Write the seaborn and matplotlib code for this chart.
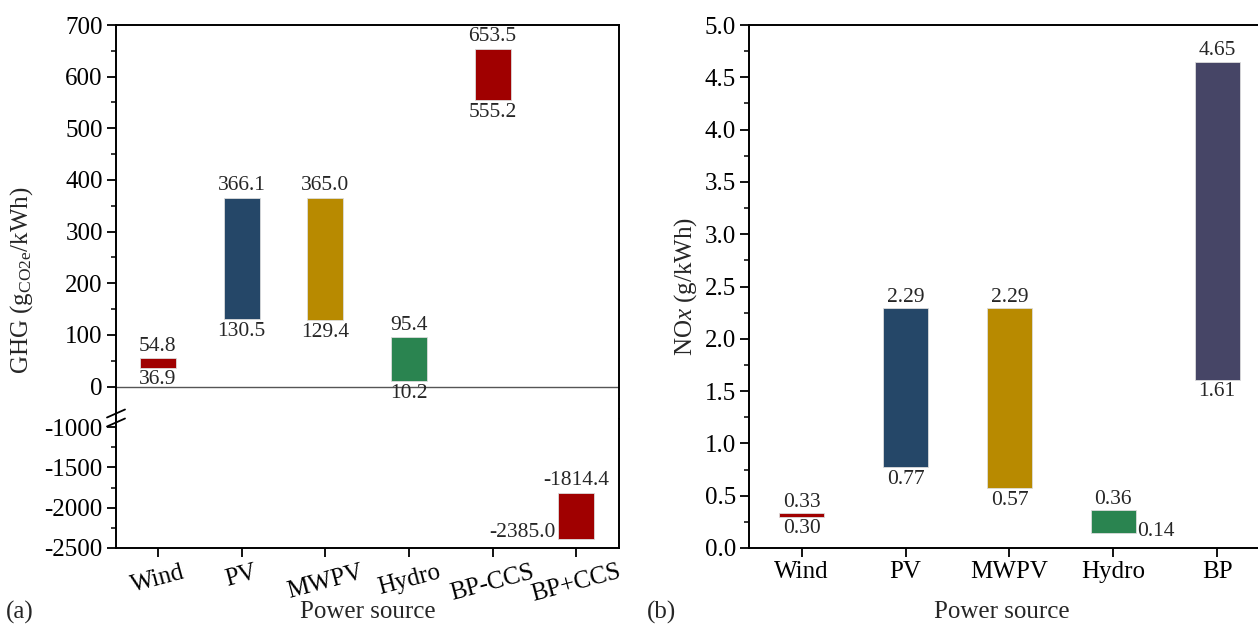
import numpy as np
import pandas as pd
import matplotlib
matplotlib.use("Agg")
import matplotlib.pyplot as plt
from matplotlib.lines import Line2D
from matplotlib.ticker import MultipleLocator, FixedLocator
import seaborn as sns

# ---------------- data ----------------
ghg_cats = ["Wind", "PV", "MWPV", "Hydro", "BP-CCS", "BP+CCS"]
ghg_low = [36.9, 130.5, 129.4, 10.2, 555.2, -2385.0]
ghg_high = [54.8, 366.1, 365.0, 95.4, 653.5, -1814.4]
ghg_colors = ["#A00000", "#254768", "#B88A00", "#2A8450", "#A00000", "#A00000"]

nox_cats = ["Wind", "PV", "MWPV", "Hydro", "BP"]
nox_low = [0.30, 0.77, 0.57, 0.14, 1.61]
nox_high = [0.33, 2.29, 2.29, 0.36, 4.65]
nox_colors = ["#A00000", "#254768", "#B88A00", "#2A8450", "#464566"]

# ---------------- style ----------------
sns.set_theme(style="ticks")
plt.rcParams.update({
    "font.family": ["Liberation Serif", "DejaVu Serif"],
    "mathtext.fontset": "custom",
    "mathtext.rm": "Liberation Serif",
    "mathtext.it": "Liberation Serif:italic",
    "axes.unicode_minus": False,
    "axes.edgecolor": "black",
    "axes.linewidth": 1.4,
    "xtick.color": "black",
    "ytick.color": "black",
    "xtick.direction": "out",
    "ytick.direction": "out",
    "xtick.major.size": 6.5,
    "ytick.major.size": 6.5,
    "ytick.minor.size": 3.5,
    "xtick.major.width": 1.3,
    "ytick.major.width": 1.3,
    "ytick.minor.width": 1.1,
    "xtick.major.pad": 3,
    "ytick.major.pad": 3,
})

FS_TICK = 18
FS_LAB = 15.5
FS_AX = 18

W, H = 1258, 626
fig = plt.figure(figsize=(W / 100, H / 100), dpi=100)


def fx(px):
    return px / W


def fy(py):
    return 1 - py / H


# left panel geometry (pixels)
L_left, L_right = 116, 619
L_top, L_break, L_bot = 25, 419, 548
ax_top = fig.add_axes([fx(L_left), fy(L_break), fx(L_right - L_left), (L_break - L_top) / H])
ax_bot = fig.add_axes([fx(L_left), fy(L_bot), fx(L_right - L_left), (L_bot - L_break) / H])

# right panel
R_left, R_right = 749, 1258
R_top, R_bot = 25, 548
ax_r = fig.add_axes([fx(R_left), fy(R_bot), fx(R_right - R_left), (R_bot - R_top) / H])


def floating_bars(ax, cats, low, high, colors):
    df = pd.DataFrame({"cat": cats, "h": np.array(high) - np.array(low)})
    sns.barplot(data=df, x="cat", y="h", hue="cat", palette=colors, width=0.43,
                legend=False, ax=ax, saturation=1, edgecolor="#dcdcdc", linewidth=0.6)
    for p, lo in zip(ax.patches, low):
        p.set_y(lo)
    ax.set_xlabel("")
    ax.set_ylabel("")


floating_bars(ax_top, ghg_cats, ghg_low, ghg_high, ghg_colors)
floating_bars(ax_bot, ghg_cats, ghg_low, ghg_high, ghg_colors)
floating_bars(ax_r, nox_cats, nox_low, nox_high, nox_colors)

# limits
ax_top.set_ylim(-62.6, 700)
ax_bot.set_ylim(-2500, -900)
for a in (ax_top, ax_bot):
    a.set_xlim(-0.5, 5.51)
ax_r.set_xlim(-0.508, 4.393)
ax_r.set_ylim(0, 5.0)

# spines
ax_top.spines["bottom"].set_visible(False)
ax_bot.spines["top"].set_visible(False)
ax_r.spines["right"].set_visible(False)

# ticks
ax_top.yaxis.set_major_locator(FixedLocator(np.arange(0, 701, 100)))
ax_top.yaxis.set_minor_locator(FixedLocator(np.arange(50, 700, 100)))
ax_top.set_yticklabels([f"{int(v)}" for v in np.arange(0, 701, 100)], fontsize=FS_TICK)
ax_top.tick_params(axis="x", bottom=False, labelbottom=False)
ax_top.tick_params(axis="y", which="both", left=True)

ax_bot.yaxis.set_major_locator(FixedLocator(np.arange(-2500, -999, 500)))
ax_bot.yaxis.set_minor_locator(FixedLocator([-2250, -1750, -1250]))
ax_bot.set_yticklabels([f"{int(v)}" for v in np.arange(-2500, -999, 500)], fontsize=FS_TICK)
ax_bot.set_xticks(range(len(ghg_cats)))
ax_bot.set_xticklabels(ghg_cats, fontsize=FS_TICK, rotation=15, ha="center")
ax_bot.tick_params(axis="y", which="both", left=True)
ax_bot.tick_params(axis="x", bottom=True)

ax_r.yaxis.set_major_locator(MultipleLocator(0.5))
ax_r.yaxis.set_minor_locator(MultipleLocator(0.25))
ax_r.set_yticks(np.arange(0, 5.01, 0.5))
ax_r.set_yticklabels([f"{v:.1f}" for v in np.arange(0, 5.01, 0.5)], fontsize=FS_TICK)
ax_r.set_xticks(range(len(nox_cats)))
ax_r.set_xticklabels(nox_cats, fontsize=FS_TICK)
ax_r.tick_params(axis="y", which="both", left=True)
ax_r.tick_params(axis="x", bottom=True)

# zero line
ax_top.axhline(0, color="#555555", lw=1.0, zorder=0.5)

# value labels (GHG)
for i, (lo, hi) in enumerate(zip(ghg_low, ghg_high)):
    a = ax_top if hi >= 0 else ax_bot
    a.annotate(f"{hi:.1f}", (i, hi), xytext=(0, 2), textcoords="offset points",
               ha="center", va="bottom", fontsize=FS_LAB)
    if lo >= 0:
        a.annotate(f"{lo:.1f}", (i, lo), xytext=(0, -2), textcoords="offset points",
                   ha="center", va="top", fontsize=FS_LAB)
    else:
        a.annotate(f"{lo:.1f}", (i - 0.215, lo), xytext=(-2, 1), textcoords="offset points",
                   ha="right", va="baseline", fontsize=FS_LAB)

# value labels (NOx)
for i, (lo, hi) in enumerate(zip(nox_low, nox_high)):
    ax_r.annotate(f"{hi:.2f}", (i, hi), xytext=(0, 1), textcoords="offset points",
                  ha="center", va="bottom", fontsize=FS_LAB)
    if nox_cats[i] == "Hydro":
        ax_r.annotate(f"{lo:.2f}", (i + 0.215, lo), xytext=(1, -2), textcoords="offset points",
                      ha="left", va="baseline", fontsize=FS_LAB)
    else:
        ax_r.annotate(f"{lo:.2f}", (i, lo), xytext=(0, -2), textcoords="offset points",
                      ha="center", va="top", fontsize=FS_LAB)

# break marks on left spine
for yc in (413.5, 422.5):
    fig.add_artist(Line2D([fx(L_left - 9), fx(L_left + 9)], [fy(yc + 4), fy(yc - 4)],
                          transform=fig.transFigure, color="black", lw=1.3))

# axis titles
fig.text(fx(22), fy(280), "GHG (g$_{\\mathrm{CO2e}}$/kWh)", rotation=90,
         ha="center", va="center", fontsize=FS_AX)
ax_r.set_ylabel("NO$\\mathit{x}$ (g/kWh)", fontsize=FS_AX, labelpad=4)

fig.text(fx((L_left + L_right) / 2), fy(612), "Power source", ha="center", va="center", fontsize=FS_AX)
fig.text(fx((R_left + R_right) / 2 - 2), fy(612), "Power source", ha="center", va="center", fontsize=FS_AX)
fig.text(fx(20), fy(612), "(a)", ha="center", va="center", fontsize=FS_AX)
fig.text(fx(662), fy(612), "(b)", ha="center", va="center", fontsize=FS_AX)

fig.savefig("out.png", dpi=100)
